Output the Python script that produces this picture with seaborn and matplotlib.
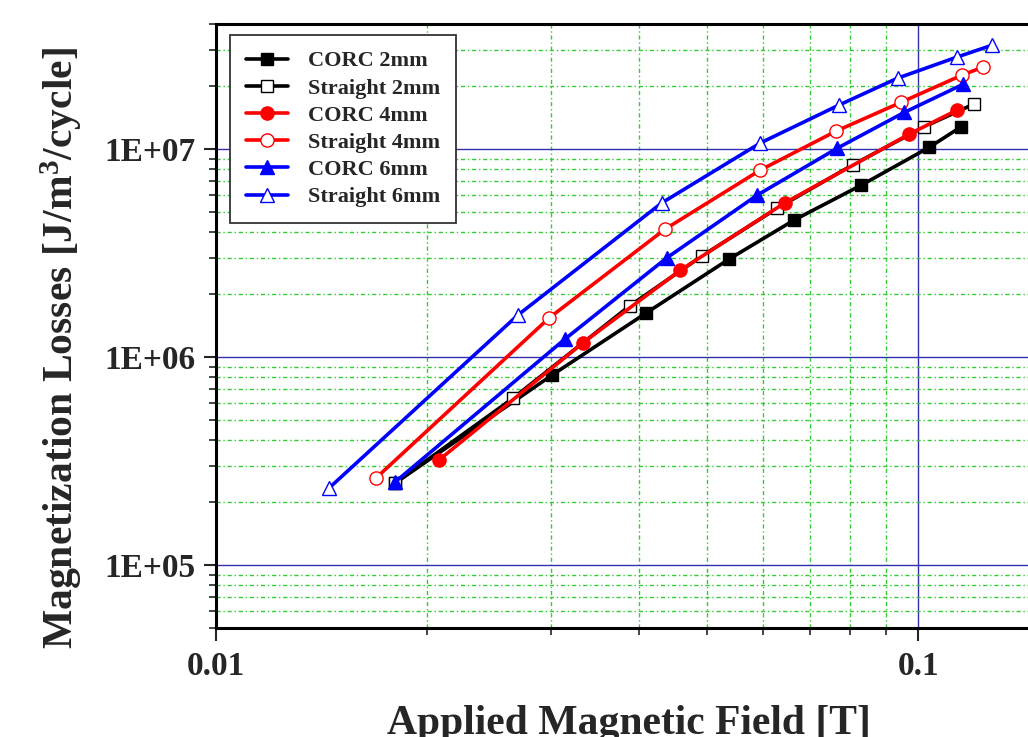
import numpy as np
import pandas as pd
import seaborn as sns
import matplotlib
matplotlib.use("Agg")
import matplotlib.pyplot as plt
from matplotlib.ticker import LogLocator, NullFormatter, FixedLocator, FixedFormatter

# data (x in T, y in J/m^3/cycle)
corc2_x = [0.0180, 0.0301, 0.0410, 0.0538, 0.0666, 0.0830, 0.1037, 0.1151]
corc2_y = [2.48e5, 8.19e5, 1.63e6, 2.96e6, 4.56e6, 6.71e6, 1.02e7, 1.28e7]
str2_x = [0.0180, 0.0265, 0.0388, 0.0492, 0.0630, 0.0808, 0.1020, 0.1202]
str2_y = [2.48e5, 6.35e5, 1.76e6, 3.06e6, 5.20e6, 8.42e6, 1.28e7, 1.65e7]
corc4_x = [0.0208, 0.0333, 0.0458, 0.0645, 0.0971, 0.1136]
corc4_y = [3.21e5, 1.17e6, 2.61e6, 5.50e6, 1.18e7, 1.54e7]
str4_x = [0.0169, 0.0298, 0.0436, 0.0596, 0.0764, 0.0946, 0.1155, 0.1238]
str4_y = [2.62e5, 1.54e6, 4.12e6, 7.93e6, 1.22e7, 1.68e7, 2.27e7, 2.48e7]
corc6_x = [0.0180, 0.0314, 0.0438, 0.0590, 0.0767, 0.0955, 0.1159]
corc6_y = [2.51e5, 1.22e6, 2.99e6, 6.01e6, 1.01e7, 1.50e7, 2.05e7]
str6_x = [0.0145, 0.0269, 0.0431, 0.0596, 0.0772, 0.0934, 0.1136, 0.1275]
str6_y = [2.35e5, 1.59e6, 5.50e6, 1.07e7, 1.63e7, 2.19e7, 2.77e7, 3.16e7]

labels = ["CORC 2mm", "Straight 2mm", "CORC 4mm", "Straight 4mm", "CORC 6mm", "Straight 6mm"]
colors = ["black", "black", "red", "red", "blue", "blue"]
markers = ["s", "s", "o", "o", "^", "^"]
filled = [True, False, True, False, True, False]
xs = [corc2_x, str2_x, corc4_x, str4_x, corc6_x, str6_x]
ys = [corc2_y, str2_y, corc4_y, str4_y, corc6_y, str6_y]

sns.set_style("ticks")
plt.rcParams['font.family'] = ['Liberation Serif', 'DejaVu Serif']
plt.rcParams['font.weight'] = 'bold'
plt.rcParams['mathtext.fontset'] = 'custom'
plt.rcParams['mathtext.rm'] = 'Liberation Serif:bold'
plt.rcParams['mathtext.bf'] = 'Liberation Serif:bold'
plt.rcParams['mathtext.it'] = 'Liberation Serif:bold'

fig = plt.figure(figsize=(10.28, 7.37), dpi=100)
ax = fig.add_axes([216 / 1028, 1 - 627.6 / 737, 826 / 1028, 603.8 / 737])

for x, y, lab, c, m, f in zip(xs, ys, labels, colors, markers, filled):
    df = pd.DataFrame({"x": x, "y": y})
    ms = 9 if m == "s" else (9.5 if m == "o" else 10.5)
    sns.lineplot(data=df, x="x", y="y", ax=ax, color=c, linewidth=2.6,
                 marker=m, markersize=ms,
                 markerfacecolor=c if f else "white",
                 markeredgecolor=c, markeredgewidth=1.0,
                 label=lab)

ax.set_xscale("log")
ax.set_yscale("log")
ax.set_xlim(0.01, 0.15)
ax.set_ylim(5e4, 4e7)

# ticks
ax.xaxis.set_major_locator(FixedLocator([0.01, 0.1]))
ax.xaxis.set_major_formatter(FixedFormatter(["0.01", "0.1"]))
ax.xaxis.set_minor_locator(LogLocator(base=10, subs=np.arange(2, 10)))
ax.xaxis.set_minor_formatter(NullFormatter())
ax.yaxis.set_major_locator(FixedLocator([1e5, 1e6, 1e7]))
ax.yaxis.set_major_formatter(FixedFormatter(["1E+05", "1E+06", "1E+07"]))
ax.yaxis.set_minor_locator(LogLocator(base=10, subs=np.arange(2, 10)))
ax.yaxis.set_minor_formatter(NullFormatter())

ax.tick_params(which="major", direction="out", length=9, width=1.5, labelsize=24, pad=6)
ax.tick_params(which="minor", direction="out", length=5, width=1.2)
ax.tick_params(axis="x", which="major", pad=8)

# grid: blue solid at decades, green dotted at minors
ax.set_axisbelow(True)
ax.grid(which="major", color="#3030b0", linewidth=1.0, linestyle="-")
ax.grid(which="minor", color="#33cc33", linewidth=1.0, linestyle=(0, (3, 2, 1, 2)))

for side in ["top", "bottom", "left", "right"]:
    ax.spines[side].set_linewidth(2.2)
    ax.spines[side].set_color("black")

ax.set_xlabel("Applied Magnetic Field [T]", fontsize=30, fontweight="bold")
ax.xaxis.label.set_va("top")
ax.xaxis.set_label_coords(0.5, -0.128)
ax.set_ylabel(r"Magnetization Losses [J/m$^{3}$/cycle]", fontsize=30, fontweight="bold")
ax.yaxis.label.set_va("center")
ax.yaxis.set_label_coords(-0.187, 0.463)

leg = ax.legend(loc="upper left", bbox_to_anchor=(0.017, 0.981), borderaxespad=0,
                fontsize=16, frameon=True, fancybox=False, handlelength=1.9,
                handletextpad=0.9, labelspacing=0.3, borderpad=0.7)
leg.get_frame().set_edgecolor("#333333")
leg.get_frame().set_linewidth(1.3)
leg.get_frame().set_facecolor("white")
leg.get_frame().set_alpha(1)
for t in leg.get_texts():
    t.set_fontweight("bold")

fig.savefig("out.png", dpi=100)
